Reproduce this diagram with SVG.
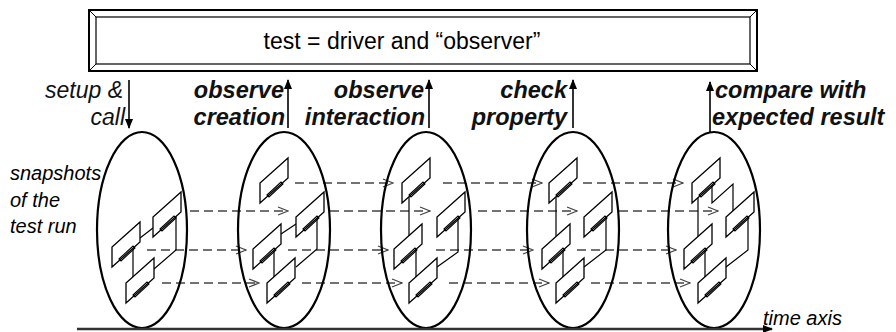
<svg xmlns="http://www.w3.org/2000/svg" xmlns:xlink="http://www.w3.org/1999/xlink" width="896" height="332" viewBox="0 0 896 332">
<style>
.ell{fill:none;stroke:#000;stroke-width:2.2}
.obj{fill:#fff;stroke:#000;stroke-width:1.3}
.slot{fill:none;stroke:#000;stroke-width:1.1}
.con{fill:none;stroke:#000;stroke-width:1.2}
.dash{fill:none;stroke:#444;stroke-width:1.4;stroke-dasharray:9 5;marker-end:url(#open)}
.lbl{font-family:"Liberation Sans",Arial,sans-serif;font-size:23.5px;font-weight:bold;font-style:italic;fill:#111}
.reg{font-family:"Liberation Sans",Arial,sans-serif;font-size:20px;font-style:italic;fill:#000}
.up{stroke:#000;stroke-width:1.6;marker-end:url(#solid)}
</style>
<defs>
<marker id="open" markerUnits="userSpaceOnUse" markerWidth="12" markerHeight="10" refX="11" refY="5" orient="auto">
<path d="M1,1 L11,5 L1,9" fill="none" stroke="#444" stroke-width="1.3"/>
</marker>
<marker id="solid" markerUnits="userSpaceOnUse" markerWidth="10" markerHeight="10" refX="9" refY="5" orient="auto">
<path d="M0,1 L10,5 L0,9 Z" fill="#000"/>
</marker>
<g id="box">
<path class="obj" d="M0,0V-20L28,-45V-25Z"/>
<path class="slot" d="M7,-8L21,-21L23,-19L9,-6Z"/>
</g>
</defs>

<g id="header">
<rect x="89" y="10" width="668" height="61" fill="#fff" stroke="#000" stroke-width="2"/>
<rect x="96" y="17" width="654" height="47" fill="none" stroke="#000" stroke-width="1.2"/>
<path d="M89,10L96,17M757,10L750,17M89,71L96,64M757,71L750,64" stroke="#000" stroke-width="1"/>
<text x="402" y="49" text-anchor="middle" font-family="'Liberation Sans',Arial,sans-serif" font-size="23" fill="#000">test = driver and “observer”</text>
</g>

<g id="labels">
<text class="lbl" style="font-weight:normal;font-size:23px" text-anchor="end"><tspan x="123" y="98">setup &amp;</tspan><tspan x="125" y="125">call</tspan></text>
<line class="up" x1="129" y1="80" x2="129" y2="128"/>
<text class="lbl" text-anchor="end"><tspan x="284" y="98">observe</tspan><tspan x="285" y="125">creation</tspan></text>
<line class="up" x1="288" y1="128" x2="288" y2="80"/>
<text class="lbl" text-anchor="end"><tspan x="424" y="98">observe</tspan><tspan x="425" y="125">interaction</tspan></text>
<line class="up" x1="429" y1="128" x2="429" y2="80"/>
<text class="lbl" text-anchor="end"><tspan x="567" y="98">check</tspan><tspan x="567" y="125">property</tspan></text>
<line class="up" x1="573" y1="128" x2="573" y2="80"/>
<text class="lbl"><tspan x="715" y="98">compare with</tspan><tspan x="712" y="125">expected result</tspan></text>
<line class="up" x1="710" y1="132" x2="710" y2="82"/>
<text class="reg"><tspan x="10" y="180">snapshots</tspan><tspan x="10" y="207">of the</tspan><tspan x="10" y="233">test run</tspan></text>
</g>

<g id="connectors">
<path class="dash" d="M295,183H393"/>
<path class="dash" d="M443,183H542"/>
<path class="dash" d="M583,183H683"/>
<path class="dash" d="M190,211H288"/>
<path class="dash" d="M330,211H430"/>
<path class="dash" d="M478,211H577"/>
<path class="dash" d="M619,211H718"/>
<path class="dash" d="M147,250H246"/>
<path class="dash" d="M288,250H388"/>
<path class="dash" d="M436,250H533"/>
<path class="dash" d="M577,250H676"/>
<path class="dash" d="M162,283H259"/>
<path class="dash" d="M302,283H402"/>
<path class="dash" d="M449,283H549"/>
<path class="dash" d="M591,283H690"/>
</g>

<g id="snapshot1">
<ellipse class="ell" cx="142" cy="230" rx="45" ry="98"/>
<path class="con" d="M140,238L153,228M133,248V277M176,216V250L154,269"/>
<use xlink:href="#box" x="153" y="237"/>
<use xlink:href="#box" x="112" y="267"/>
<use xlink:href="#box" x="126" y="303"/>
</g>

<g id="snapshot2">
<ellipse class="ell" cx="284" cy="230" rx="46" ry="98"/>
<path class="con" d="M281,234L296,224M274,250V278M317,218V249L296,267"/>
<use xlink:href="#box" x="260" y="203"/>
<use xlink:href="#box" x="296" y="237"/>
<use xlink:href="#box" x="253" y="269"/>
<use xlink:href="#box" x="267" y="303"/>
</g>

<g id="snapshot3">
<ellipse class="ell" cx="426" cy="230" rx="45" ry="98"/>
<path class="con" d="M409,197V236M416,249V277M458,218V252L437,267"/>
<use xlink:href="#box" x="402" y="203"/>
<use xlink:href="#box" x="437" y="237"/>
<use xlink:href="#box" x="394" y="269"/>
<use xlink:href="#box" x="409" y="303"/>
</g>

<g id="snapshot4">
<ellipse class="ell" cx="573" cy="230" rx="46" ry="98"/>
<path class="con" d="M556,197V236M563,250V277M606,217V250L584,267"/>
<use xlink:href="#box" x="549" y="203"/>
<use xlink:href="#box" x="584" y="237"/>
<use xlink:href="#box" x="542" y="269"/>
<use xlink:href="#box" x="556" y="303"/>
</g>

<g id="snapshot5">
<ellipse class="ell" cx="714" cy="230" rx="46" ry="98"/>
<path class="con" d="M698,197V237M705,250V277M748,217V250L726,267M712,185V203L733,184V211"/>
<use xlink:href="#box" x="692" y="203"/>
<use xlink:href="#box" x="726" y="237"/>
<use xlink:href="#box" x="684" y="269"/>
<use xlink:href="#box" x="698" y="303"/>
</g>

<g id="timeaxis">
<line x1="77" y1="329" x2="772" y2="329" stroke="#333" stroke-width="2.5" marker-end="url(#solid)"/>
<text class="reg" x="763" y="325" font-size="21">time axis</text>
</g>
</svg>
